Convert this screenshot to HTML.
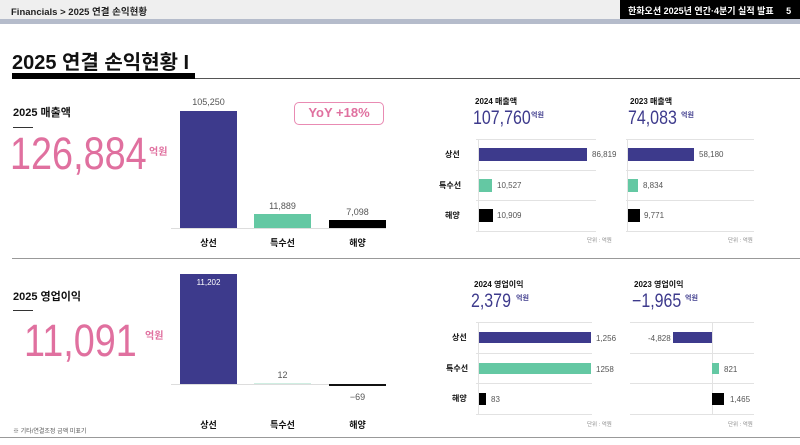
<!DOCTYPE html><html><head><meta charset="utf-8"><style>
*{margin:0;padding:0;box-sizing:border-box}
body{width:800px;height:445px;background:#fff;position:relative;overflow:hidden;font-family:"Liberation Sans","Noto Sans CJK KR",sans-serif;color:#111}
.a{position:absolute;white-space:nowrap}
.b{position:absolute}
.pk{color:#e0709f}
.nv{color:#3d3a8c}
.v{font-size:8px;color:#555}
.c{font-size:9px;font-weight:bold;text-align:center;width:57px}
.hl{position:absolute;height:1px;background:#e2e2e2}
.sx{transform-origin:0 0;transform:scaleX(0.84)}
</style></head><body>
<div class="b" style="left:0;top:0;width:800px;height:19px;background:#efefef"></div>
<div class="b" style="left:620px;top:0;width:180px;height:19px;background:#000"></div>
<div class="b" style="left:0;top:19px;width:800px;height:5px;background:#b5bccb"></div>
<div class="a" style="left:11px;top:4px;font-size:9.5px;font-weight:bold;color:#222">Financials &gt; 2025 연결 손익현황</div>
<div class="a" style="left:628px;top:4px;font-size:9px;color:#fff;font-weight:bold">한화오션 2025년 연간·4분기 실적 발표&nbsp;&nbsp;&nbsp;&nbsp;&nbsp;5</div>
<div class="a" style="left:12px;top:46px;font-size:20px;font-weight:bold;color:#111">2025 연결 손익현황 I</div>
<div class="b" style="left:12px;top:73px;width:183px;height:6px;background:#000"></div>
<div class="b" style="left:195px;top:78px;width:605px;height:1px;background:#555"></div>
<!-- top left -->
<div class="a" style="left:13px;top:104px;font-size:11px;font-weight:bold">2025 매출액</div>
<div class="b" style="left:13px;top:127px;width:20px;height:1px;background:#333"></div>
<div class="a pk sx" style="left:10px;top:131px;font-size:45px;line-height:46px">126,884</div>
<div class="a pk" style="left:149px;top:143px;font-size:10px;font-weight:bold">억원</div>
<div class="b" style="left:294px;top:102px;width:90px;height:23px;border:1.5px solid #e98bb3;border-radius:5px"></div>
<div class="a pk" style="left:294px;top:105px;width:90px;text-align:center;font-size:13px;font-weight:bold">YoY +18%</div>
<div class="b" style="left:171px;top:228px;width:215px;height:1px;background:#ddd"></div>
<div class="b" style="left:180px;top:111px;width:57px;height:117px;background:#3d3a8c"></div>
<div class="b" style="left:254px;top:214px;width:57px;height:14px;background:#64c8a3"></div>
<div class="b" style="left:329px;top:220px;width:57px;height:8px;background:#000"></div>
<div class="a v c" style="left:180px;top:97px;font-weight:normal">105,250</div>
<div class="a v c" style="left:254px;top:201px;font-weight:normal">11,889</div>
<div class="a v c" style="left:329px;top:207px;font-weight:normal">7,098</div>
<div class="a c" style="left:180px;top:236px">상선</div>
<div class="a c" style="left:254px;top:236px">특수선</div>
<div class="a c" style="left:329px;top:236px">해양</div>
<div class="b" style="left:12px;top:258px;width:788px;height:1px;background:#999"></div>
<!-- bottom left -->
<div class="a" style="left:13px;top:288px;font-size:11px;font-weight:bold">2025 영업이익</div>
<div class="b" style="left:13px;top:310px;width:20px;height:1px;background:#333"></div>
<div class="a pk sx" style="left:24px;top:318px;font-size:45px;line-height:46px">11,091</div>
<div class="a pk" style="left:145px;top:327px;font-size:10px;font-weight:bold">억원</div>
<div class="b" style="left:171px;top:384px;width:215px;height:1px;background:#ddd"></div>
<div class="b" style="left:180px;top:274px;width:57px;height:110px;background:#3d3a8c"></div>
<div class="a c" style="left:180px;top:278px;font-size:8px;font-weight:normal;color:#fff">11,202</div>
<div class="b" style="left:254px;top:383px;width:57px;height:1px;background:#cfeee2"></div>
<div class="a v c" style="left:254px;top:370px;font-weight:normal">12</div>
<div class="b" style="left:329px;top:384px;width:57px;height:2px;background:#111"></div>
<div class="a v c" style="left:329px;top:392px;font-weight:normal">−69</div>
<div class="a c" style="left:180px;top:418px">상선</div>
<div class="a c" style="left:254px;top:418px">특수선</div>
<div class="a c" style="left:329px;top:418px">해양</div>
<div class="a" style="left:13px;top:426px;font-size:6px;color:#555">※ 기타/연결조정 금액 미표기</div>
<div class="b" style="left:0;top:437px;width:800px;height:1px;background:#999"></div>
<!-- top right panels -->
<div class="a" style="left:475px;top:96px;font-size:8px;font-weight:bold">2024 매출액</div>
<div class="a nv sx" style="left:473px;top:108px;font-size:19px">107,760</div>
<div class="a nv" style="left:531px;top:110px;font-size:7px;font-weight:bold">억원</div>
<div class="a" style="left:630px;top:96px;font-size:8px;font-weight:bold">2023 매출액</div>
<div class="a nv sx" style="left:628px;top:108px;font-size:19px">74,083</div>
<div class="a nv" style="left:681px;top:110px;font-size:7px;font-weight:bold">억원</div>
<div class="hl" style="left:476px;top:139px;width:120px"></div><div class="hl" style="left:476px;top:170px;width:120px"></div><div class="hl" style="left:476px;top:200px;width:120px"></div><div class="hl" style="left:476px;top:231px;width:120px"></div>
<div class="hl" style="left:626px;top:139px;width:128px"></div><div class="hl" style="left:626px;top:170px;width:128px"></div><div class="hl" style="left:626px;top:200px;width:128px"></div><div class="hl" style="left:626px;top:231px;width:128px"></div>
<div class="b" style="left:478px;top:139px;width:1px;height:92px;background:#e2e2e2"></div>
<div class="b" style="left:627px;top:139px;width:1px;height:92px;background:#e2e2e2"></div>
<div class="a" style="left:445px;top:149px;font-size:8px;font-weight:bold">상선</div>
<div class="a" style="left:439px;top:180px;font-size:8px;font-weight:bold">특수선</div>
<div class="a" style="left:445px;top:210px;font-size:8px;font-weight:bold">해양</div>
<div class="b" style="left:479px;top:148px;width:108px;height:13px;background:#3d3a8c"></div>
<div class="b" style="left:479px;top:179px;width:13px;height:13px;background:#64c8a3"></div>
<div class="b" style="left:479px;top:209px;width:14px;height:13px;background:#000"></div>
<div class="a v" style="left:592px;top:150px">86,819</div>
<div class="a v" style="left:497px;top:181px">10,527</div>
<div class="a v" style="left:497px;top:211px">10,909</div>
<div class="b" style="left:628px;top:148px;width:66px;height:13px;background:#3d3a8c"></div>
<div class="b" style="left:628px;top:179px;width:10px;height:13px;background:#64c8a3"></div>
<div class="b" style="left:628px;top:209px;width:12px;height:13px;background:#000"></div>
<div class="a v" style="left:699px;top:150px">58,180</div>
<div class="a v" style="left:643px;top:181px">8,834</div>
<div class="a v" style="left:644px;top:211px">9,771</div>
<div class="a" style="left:587px;top:236px;font-size:5.5px;color:#888">단위 : 억원</div>
<div class="a" style="left:728px;top:236px;font-size:5.5px;color:#888">단위 : 억원</div>
<!-- bottom right panels -->
<div class="a" style="left:474px;top:279px;font-size:8px;font-weight:bold">2024 영업이익</div>
<div class="a nv sx" style="left:471px;top:291px;font-size:19px">2,379</div>
<div class="a nv" style="left:516px;top:293px;font-size:7px;font-weight:bold">억원</div>
<div class="a" style="left:634px;top:279px;font-size:8px;font-weight:bold">2023 영업이익</div>
<div class="a nv sx" style="left:632px;top:291px;font-size:19px">−1,965</div>
<div class="a nv" style="left:685px;top:293px;font-size:7px;font-weight:bold">억원</div>
<div class="hl" style="left:476px;top:322px;width:116px"></div><div class="hl" style="left:476px;top:353px;width:116px"></div><div class="hl" style="left:476px;top:383px;width:116px"></div><div class="hl" style="left:476px;top:414px;width:116px"></div>
<div class="hl" style="left:630px;top:322px;width:124px"></div><div class="hl" style="left:630px;top:353px;width:124px"></div><div class="hl" style="left:630px;top:383px;width:124px"></div><div class="hl" style="left:630px;top:414px;width:124px"></div>
<div class="b" style="left:478px;top:322px;width:1px;height:92px;background:#e2e2e2"></div>
<div class="b" style="left:712px;top:322px;width:1px;height:92px;background:#e2e2e2"></div>
<div class="a" style="left:452px;top:332px;font-size:8px;font-weight:bold">상선</div>
<div class="a" style="left:446px;top:363px;font-size:8px;font-weight:bold">특수선</div>
<div class="a" style="left:452px;top:393px;font-size:8px;font-weight:bold">해양</div>
<div class="b" style="left:479px;top:332px;width:112px;height:11px;background:#3d3a8c"></div>
<div class="b" style="left:479px;top:363px;width:112px;height:11px;background:#64c8a3"></div>
<div class="b" style="left:479px;top:393px;width:7px;height:12px;background:#000"></div>
<div class="a v" style="left:596px;top:334px">1,256</div>
<div class="a v" style="left:596px;top:365px">1258</div>
<div class="a v" style="left:491px;top:395px">83</div>
<div class="b" style="left:673px;top:332px;width:39px;height:11px;background:#3d3a8c"></div>
<div class="b" style="left:712px;top:363px;width:7px;height:11px;background:#64c8a3"></div>
<div class="b" style="left:712px;top:393px;width:12px;height:12px;background:#000"></div>
<div class="a v" style="left:648px;top:334px">-4,828</div>
<div class="a v" style="left:724px;top:365px">821</div>
<div class="a v" style="left:730px;top:395px">1,465</div>
<div class="a" style="left:587px;top:420px;font-size:5.5px;color:#888">단위 : 억원</div>
<div class="a" style="left:728px;top:420px;font-size:5.5px;color:#888">단위 : 억원</div>
</body></html>
